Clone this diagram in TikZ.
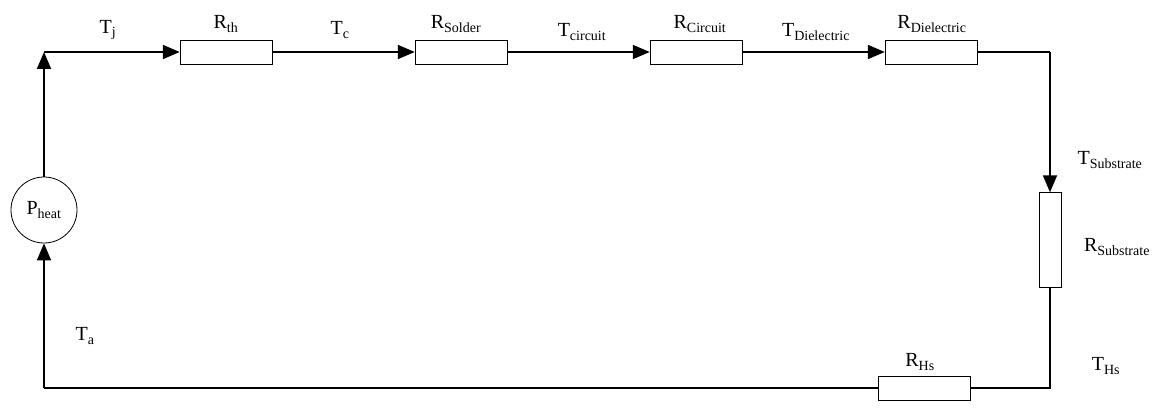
\documentclass[tikz,border=0pt]{standalone}
\usepackage{fontspec}
\setmainfont{Liberation Serif}
\usetikzlibrary{arrows.meta, positioning}
\tikzset{
    res/.style={draw, rectangle, minimum width=92pt, minimum height=24pt, inner sep=0pt},
    vres/.style={draw, rectangle, minimum width=22pt, minimum height=95pt, inner sep=0pt},
    wire/.style={line width=1.8pt},
    flow/.style={wire, -{Triangle[length=17pt,width=14pt]}},
    lab/.style={font=\fontsize{20}{24}\selectfont}
}
\begin{document}
\begin{tikzpicture}[x=1pt, y=-1pt]
    \useasboundingbox (0,0) rectangle (1160,412);
    % nodes
    \node[draw, circle, minimum size=66pt, inner sep=0pt, line width=0.8pt, lab] (P) at (44,210) {P\textsubscript{heat}};
    \coordinate (tl) at (44,52);
    \coordinate (tr) at (1050,52);
    \coordinate (br) at (1050,388);
    \coordinate (bl) at (44,388);
    \node[res] (Rth) at (226,52) {};
    \node[res] (Rsol) at (461,52) {};
    \node[res] (Rcir) at (696,52) {};
    \node[res] (Rdie) at (931,52) {};
    \node[vres] (Rsub) at (1050,240) {};
    \node[res] (Rhs) at (924,388) {};
    % connectors
    \draw[flow] (P.north) -- (tl);
    \draw[flow] (tl) -- (Rth.west);
    \draw[flow] (Rth.east) -- (Rsol.west);
    \draw[flow] (Rsol.east) -- (Rcir.west);
    \draw[flow] (Rcir.east) -- (Rdie.west);
    \draw[wire] (Rdie.east) -- (tr);
    \draw[flow] (tr) -- (Rsub.north);
    \draw[wire] (Rsub.south) -- (br) -- (Rhs.east);
    \draw[wire] (Rhs.west) -- (bl);
    \draw[flow] (bl) -- (P.south);
    % labels
    \node[lab] (Tj) at (108,30) {T\textsubscript{j}};
    \node[lab] (Lth) at (226,24) {R\textsubscript{th}};
    \node[lab] (Tc) at (340,30) {T\textsubscript{c}};
    \node[lab] (Lsol) at (456,24) {R\textsubscript{Solder}};
    \node[lab] (Tcir) at (582,32) {T\textsubscript{circuit}};
    \node[lab] (Lcir) at (700,24) {R\textsubscript{Circuit}};
    \node[lab] (Tdie) at (816,32) {T\textsubscript{Dielectric}};
    \node[lab] (Ldie) at (932,24) {R\textsubscript{Dielectric}};
    \node[lab] (Tsub) at (1110,160) {T\textsubscript{Substrate}};
    \node[lab] (Lsub) at (1117,247) {R\textsubscript{Substrate}};
    \node[lab] (Ths) at (1106,366) {T\textsubscript{Hs}};
    \node[lab] (Lhs) at (920,362) {R\textsubscript{Hs}};
    \node[lab] (Ta) at (85,336) {T\textsubscript{a}};
\end{tikzpicture}
\end{document}
